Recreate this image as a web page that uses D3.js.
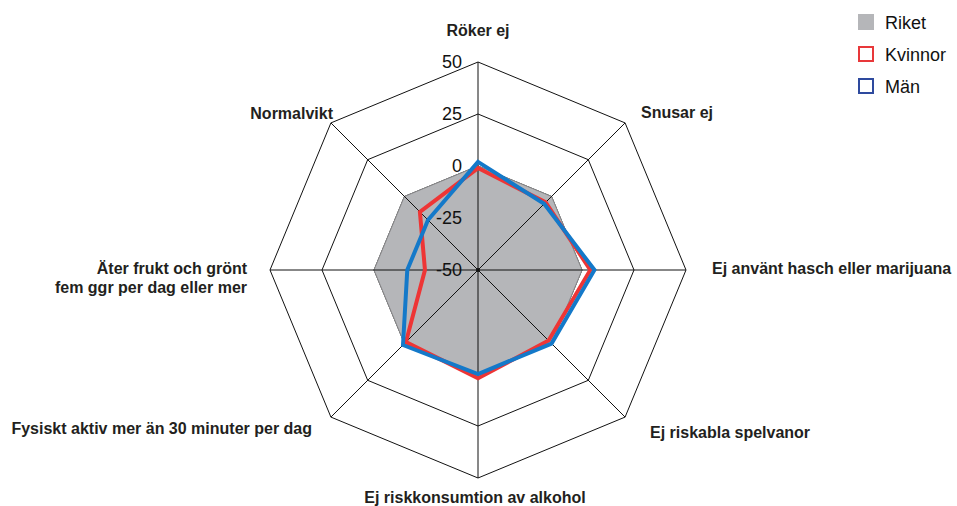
<!DOCTYPE html>
<html>
<head>
<meta charset="utf-8">
<script src="https://cdn.jsdelivr.net/npm/d3@7"></script>
<style>
  body { margin: 0; background: #fff; }
  text { font-family: "Liberation Sans", Arial, sans-serif; }
  .axis-label { font-size: 16px; font-weight: bold; fill: #231f20; }
  .tick { font-size: 18px; fill: #111; }
  .legend { font-size: 18px; fill: #111; }
</style>
</head>
<body>
<svg id="chart" width="957" height="506"></svg>
<script>
const categories = [
  "Röker ej",
  "Snusar ej",
  "Ej använt hasch eller marijuana",
  "Ej riskabla spelvanor",
  "Ej riskkonsumtion av alkohol",
  "Fysiskt aktiv mer än 30 minuter per dag",
  "Äter frukt och grönt\nfem ggr per dag eller mer",
  "Normalvikt"
];
const riket   = [0, 0, 0, 0, 0, 0, 0, 0];
const kvinnor = [-1, -4, 4, -2, 2, -1, -24.5, -10.5];
const man     = [2, -5, 6, 0, 0, 1, -16, -16];
const ticks = [50, 25, 0, -25, -50];

const svg = d3.select("#chart");
const cx = 478, cy = 270, R = 208;

const r = d3.scaleLinear().domain([-50, 50]).range([0, R]);
const angle = d3.scaleLinear().domain([0, categories.length]).range([0, 2 * Math.PI]);

const pt = (i, v) => [cx + r(v) * Math.sin(angle(i)), cy - r(v) * Math.cos(angle(i))];
const poly = vals => "M" + vals.map((v, i) => pt(i, v).join(",")).join("L") + "Z";

// Grid rings
svg.append("g").selectAll("path")
  .data(ticks.filter(t => t > -50))
  .enter().append("path")
  .attr("d", t => poly(categories.map(() => t)))
  .attr("fill", "none")
  .attr("stroke", "#111")
  .attr("stroke-width", 1);

// Riket area
svg.append("path")
  .attr("d", poly(riket))
  .attr("fill", "#b5b6b9")
  .attr("stroke", "#8d8d8f")
  .attr("stroke-width", 1);

// Spokes
svg.append("g").selectAll("line")
  .data(categories)
  .enter().append("line")
  .attr("x1", cx).attr("y1", cy)
  .attr("x2", (d, i) => pt(i, 50)[0])
  .attr("y2", (d, i) => pt(i, 50)[1])
  .attr("stroke", "#111")
  .attr("stroke-width", 1);

svg.append("circle").attr("cx", cx).attr("cy", cy).attr("r", 2).attr("fill", "#111");

// Series
svg.append("path")
  .attr("d", poly(kvinnor))
  .attr("fill", "none")
  .attr("stroke", "#ee3535")
  .attr("stroke-width", 4)
  .attr("stroke-linejoin", "miter");

svg.append("path")
  .attr("d", poly(man))
  .attr("fill", "none")
  .attr("stroke", "#1479c9")
  .attr("stroke-width", 4)
  .attr("stroke-linejoin", "miter");

// Tick labels
svg.append("g").selectAll("text")
  .data(ticks)
  .enter().append("text")
  .attr("class", "tick")
  .attr("x", cx - 16)
  .attr("y", t => cy - r(t) + 6)
  .attr("text-anchor", "end")
  .text(t => t);

// Axis labels
const labelPos = [
  { x: 478, y: 36, anchor: "middle" },
  { x: 641, y: 118, anchor: "start" },
  { x: 712, y: 274, anchor: "start" },
  { x: 650, y: 438, anchor: "start" },
  { x: 475, y: 503, anchor: "middle" },
  { x: 312, y: 434, anchor: "end" },
  { x: 247, y: 274, anchor: "end" },
  { x: 333, y: 119, anchor: "end" }
];

svg.append("g").selectAll("text")
  .data(categories)
  .enter().append("text")
  .attr("class", "axis-label")
  .attr("x", (d, i) => labelPos[i].x)
  .attr("y", (d, i) => labelPos[i].y)
  .attr("text-anchor", (d, i) => labelPos[i].anchor)
  .each(function(d, i) {
    d.split("\n").forEach((line, j) => {
      d3.select(this).append("tspan")
        .attr("x", labelPos[i].x)
        .attr("dy", j === 0 ? 0 : 19)
        .text(line);
    });
  });

// Legend
const legendItems = [
  { name: "Riket", fill: "#b5b6b9", stroke: "none" },
  { name: "Kvinnor", fill: "#fff", stroke: "#e8383a" },
  { name: "Män", fill: "#fff", stroke: "#2e4a9e" }
];

const legend = svg.append("g").selectAll("g")
  .data(legendItems)
  .enter().append("g")
  .attr("transform", (d, i) => `translate(858,${14 + i * 32})`);

legend.append("rect")
  .attr("x", d => d.stroke === "none" ? 0 : 1)
  .attr("y", d => d.stroke === "none" ? 0 : 1)
  .attr("width", d => d.stroke === "none" ? 16 : 14)
  .attr("height", d => d.stroke === "none" ? 16 : 14)
  .attr("fill", d => d.fill)
  .attr("stroke", d => d.stroke)
  .attr("stroke-width", 2);

legend.append("text")
  .attr("class", "legend")
  .attr("x", 27)
  .attr("y", 15)
  .text(d => d.name);
</script>
</body>
</html>
